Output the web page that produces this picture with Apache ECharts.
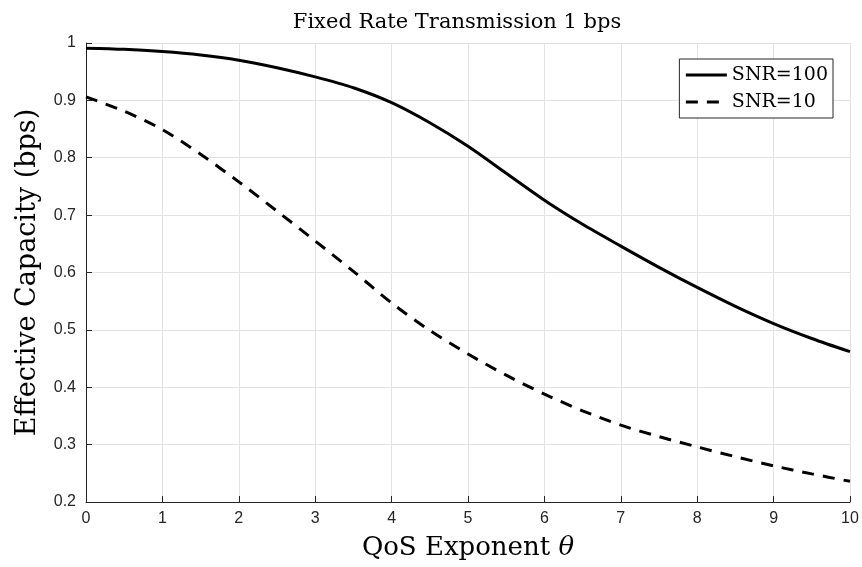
<!DOCTYPE html>
<html>
<head>
<meta charset="utf-8">
<script src="https://cdn.jsdelivr.net/npm/echarts@6/dist/echarts.min.js"></script>
<style>
  html, body { margin: 0; padding: 0; background: #fff; }
  #chart { width: 862px; height: 567px; }
</style>
</head>
<body>
<div id="chart"></div>
<script>
// QoS exponent θ (sampled every 0.5)
var theta = [0, 0.5, 1, 1.5, 2, 2.5, 3, 3.5, 4, 4.5, 5, 5.5, 6, 6.5, 7, 7.5, 8, 8.5, 9, 9.5, 10];

// Effective capacity (bps) for each SNR
var capSnr100 = [0.991, 0.989, 0.985, 0.979, 0.970, 0.957, 0.941, 0.922, 0.896, 0.861, 0.820, 0.773,
                 0.726, 0.684, 0.646, 0.609, 0.574, 0.541, 0.511, 0.485, 0.462];
var capSnr10  = [0.906, 0.881, 0.849, 0.806, 0.758, 0.707, 0.655, 0.602, 0.547, 0.499, 0.458, 0.421,
                 0.388, 0.359, 0.334, 0.314, 0.296, 0.279, 0.263, 0.249, 0.236];

var seriesNames = ['SNR=100', 'SNR=10'];
var xTicks = [0, 1, 2, 3, 4, 5, 6, 7, 8, 9, 10];
var yTicks = [0.2, 0.3, 0.4, 0.5, 0.6, 0.7, 0.8, 0.9, 1];

function pairs(xs, ys) {
  return xs.map(function (x, i) { return [x, ys[i]]; });
}

var serif = '"DejaVu Serif", "Liberation Serif", serif';
var sans = '"Liberation Sans", Arial, sans-serif';
var axisInk = '#262626';

var chart = echarts.init(document.getElementById('chart'), null, { renderer: 'canvas' });

chart.setOption({
  animation: false,
  backgroundColor: '#ffffff',
  title: {
    text: 'Fixed Rate Transmission 1 bps',
    left: 452,
    textAlign: 'center',
    top: 7,
    textStyle: { fontFamily: serif, fontSize: 21, fontWeight: 'normal', color: '#000' }
  },
  legend: {
    right: 29,
    top: 59,
    orient: 'vertical',
    itemWidth: 41,
    itemHeight: 14,
    itemGap: 7,
    padding: [6, 5, 6, 5],
    backgroundColor: '#fff',
    borderColor: axisInk,
    borderWidth: 1,
    borderRadius: 0,
    data: seriesNames,
    // line samples only, no point markers
    itemStyle: { opacity: 0, borderWidth: 0 },
    lineStyle: { width: 3 },
    textStyle: { fontFamily: serif, fontSize: 19, lineHeight: 20, color: '#000' }
  },
  grid: { left: 86, right: 12, top: 43, bottom: 65, containLabel: false },
  xAxis: {
    type: 'value',
    min: 0,
    max: 10,
    interval: 1,
    name: 'QoS Exponent {it|θ}',
    nameLocation: 'middle',
    nameGap: 33,
    nameTextStyle: {
      fontFamily: serif, fontSize: 26, color: '#000',
      rich: { it: { fontFamily: serif, fontStyle: 'italic', fontSize: 26, color: '#000' } }
    },
    axisLine: { show: true, lineStyle: { color: axisInk, width: 1 } },
    axisTick: { show: true, inside: true, length: 6, lineStyle: { color: axisInk } },
    axisLabel: {
      fontFamily: sans, fontSize: 16, color: axisInk, margin: 9,
      formatter: function (v) { return xTicks.indexOf(v) >= 0 ? String(v) : ''; }
    },
    splitLine: { show: true, lineStyle: { color: '#e3e3e3', width: 1 } }
  },
  yAxis: {
    type: 'value',
    min: 0.2,
    max: 1,
    interval: 0.1,
    name: 'Effective Capacity (bps)',
    nameLocation: 'middle',
    nameGap: 45,
    nameRotate: 90,
    nameTextStyle: { fontFamily: serif, fontSize: 27, color: '#000' },
    axisLine: { show: true, lineStyle: { color: axisInk, width: 1 } },
    axisTick: { show: true, inside: true, length: 6, lineStyle: { color: axisInk } },
    axisLabel: {
      fontFamily: sans, fontSize: 16, color: axisInk, margin: 10,
      formatter: function (v) {
        var r = Math.round(v * 10) / 10;
        return yTicks.indexOf(r) >= 0 ? String(r) : '';
      }
    },
    splitLine: { show: true, lineStyle: { color: '#e3e3e3', width: 1 } }
  },
  series: [
    {
      name: seriesNames[0],
      type: 'line',
      data: pairs(theta, capSnr100),
      smooth: 0.3,
      showSymbol: false,
      symbol: 'none',
      color: '#000',
      lineStyle: { color: '#000', width: 3, type: 'solid' }
    },
    {
      name: seriesNames[1],
      type: 'line',
      data: pairs(theta, capSnr10),
      smooth: 0.3,
      showSymbol: false,
      symbol: 'none',
      color: '#000',
      lineStyle: { color: '#000', width: 3, type: [12, 9] }
    }
  ]
});
</script>
</body>
</html>
